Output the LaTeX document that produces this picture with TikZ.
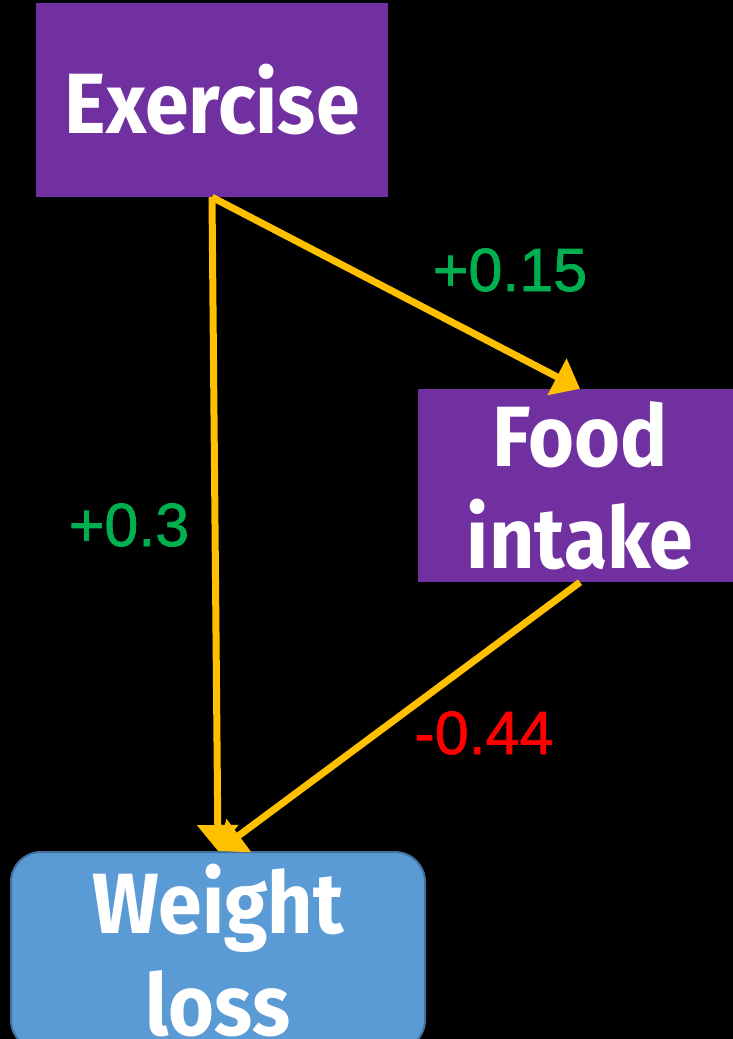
\documentclass[tikz,border=0pt]{standalone}
\usepackage{fontspec}
\usetikzlibrary{arrows.meta}
\newfontfamily\boxfont[FakeStretch=0.92]{Fira Sans}
\newfontfamily\numfont[FakeBold=1.2]{Liberation Sans}
\definecolor{plum}{HTML}{7030A0}
\definecolor{skyblue}{HTML}{5B9BD5}
\definecolor{skyedge}{HTML}{41719C}
\definecolor{amber}{HTML}{FFC000}
\definecolor{leaf}{HTML}{00B050}

\begin{document}
\begin{tikzpicture}[x=1pt, y=-1pt,
    box/.style={fill=plum, text=white, align=center, inner sep=0pt,
      font=\boxfont\bfseries\fontsize{85.6}{102}\selectfont},
    link/.style={amber, line width=7pt, -{Triangle[length=26pt,width=40pt]}},
    coef/.style={font=\numfont\fontsize{61}{70}\selectfont, inner sep=0pt}]
    \fill[black] (0,0) rectangle (733,1039);
    \useasboundingbox (0,0) rectangle (733,1039);

    \node[box, minimum width=352pt, minimum height=194pt] (ex) at (212,100) {Exercise};
    \node[box, minimum width=324pt, minimum height=193pt] (food) at (580,485.5) {Food\\intake};
    \node[box, fill=skyblue, draw=skyedge, line width=2pt, rounded corners=30pt,
      minimum width=414pt, minimum height=198pt] (wl) at (218,951) {Weight\\loss};

    \draw[link] (ex.south) -- (wl.north);
    \draw[link] (ex.south) -- (food.north);
    \draw[link] (food.south) -- (wl.north);

    \node[coef, leaf] (b1) at (510,270) {+0.15};
    \node[coef, leaf] (b2) at (129,525) {+0.3};
    \node[coef, red] (b3) at (484,733) {-0.44};
\end{tikzpicture}
\end{document}
